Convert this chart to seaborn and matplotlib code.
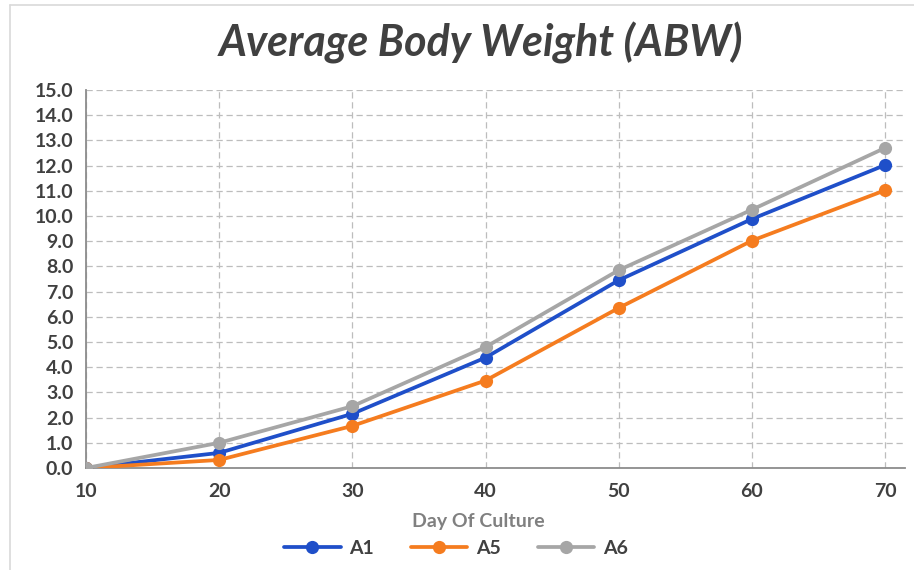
import numpy as np
import pandas as pd
import matplotlib
matplotlib.use("Agg")
import matplotlib.pyplot as plt
import seaborn as sns
from matplotlib.lines import Line2D

days = [10, 20, 30, 40, 50, 60, 70]
a1 = [0.0, 0.6, 2.15, 4.38, 7.45, 9.88, 12.02]
a5 = [0.0, 0.32, 1.67, 3.47, 6.35, 9.02, 11.02]
a6 = [0.0, 1.0, 2.45, 4.8, 7.85, 10.25, 12.7]
series_names = ["A1", "A5", "A6"]
colors = ["#1f4fc9", "#f57c1f", "#a6a6a6"]
y_ticks = [float(v) for v in range(0, 16)]

df = pd.DataFrame({
    "Day": days * 3,
    "ABW": a1 + a5 + a6,
    "Series": sum([[n] * len(days) for n in series_names], []),
})

sns.set_theme(style="white")
plt.rcParams["font.family"] = ["Lato", "DejaVu Sans"]

fig = plt.figure(figsize=(9.14, 5.70), dpi=100)
ax = fig.add_axes([86 / 914, 1 - 468 / 570, (905 - 86) / 914, (468 - 90) / 570])

sns.lineplot(data=df, x="Day", y="ABW", hue="Series", palette=colors,
             marker="o", markersize=9.5, markeredgewidth=0, linewidth=2.7,
             ax=ax, legend=False, zorder=3)

ax.set_xlim(10, 71.5)
ax.set_ylim(0, 15)
ax.set_xticks(days)
ax.set_yticks(y_ticks)
ax.set_yticklabels([f"{v:.1f}" for v in y_ticks])
ax.grid(True, linestyle=(0, (5, 3)), color="#bdbdbd", linewidth=0.9)
ax.set_axisbelow(True)
for s in ["top", "right"]:
    ax.spines[s].set_visible(False)
for s in ["left", "bottom"]:
    ax.spines[s].set_color("#8c8c8c")
    ax.spines[s].set_linewidth(1.3)
ax.tick_params(axis="both", which="major", direction="out", length=6,
               width=1.0, color="#8c8c8c", labelsize=14, labelcolor="#404040")
for lbl in ax.get_xticklabels() + ax.get_yticklabels():
    lbl.set_fontweight("bold")
ax.tick_params(axis="x", pad=5)
ax.tick_params(axis="y", pad=3)

ax.set_xlabel("Day Of Culture", fontsize=14, fontweight="bold", color="#808080", labelpad=8)
ax.xaxis.set_label_coords((478 - 86) / 819, -0.118)
ax.set_ylabel("")

fig.text(481 / 914, 1 - 43 / 570, "Average Body Weight (ABW)", ha="center", va="center",
         fontsize=31, fontweight="bold", fontstyle="italic", color="#404040")

handles = [Line2D([0], [0], color=c, marker="o", markersize=9.5, linewidth=2.7,
                  markeredgewidth=0) for c in colors]
fig.legend(handles, series_names, loc="center", bbox_to_anchor=(456 / 914, 1 - 548 / 570),
           ncol=3, frameon=False, handlelength=2.9, handletextpad=0.45, columnspacing=1.9,
           prop={"weight": "bold", "size": 14}, labelcolor="#404040")

# outer chart border (partial, as in screenshot)
fig.add_artist(Line2D([10 / 914, 10 / 914], [0, 1 - 5 / 570], color="#d9d9d9", linewidth=1.2,
                      transform=fig.transFigure))
fig.add_artist(Line2D([10 / 914, 1], [1 - 5 / 570, 1 - 5 / 570], color="#d9d9d9", linewidth=1.2,
                      transform=fig.transFigure))

fig.savefig("out.png", dpi=100)
